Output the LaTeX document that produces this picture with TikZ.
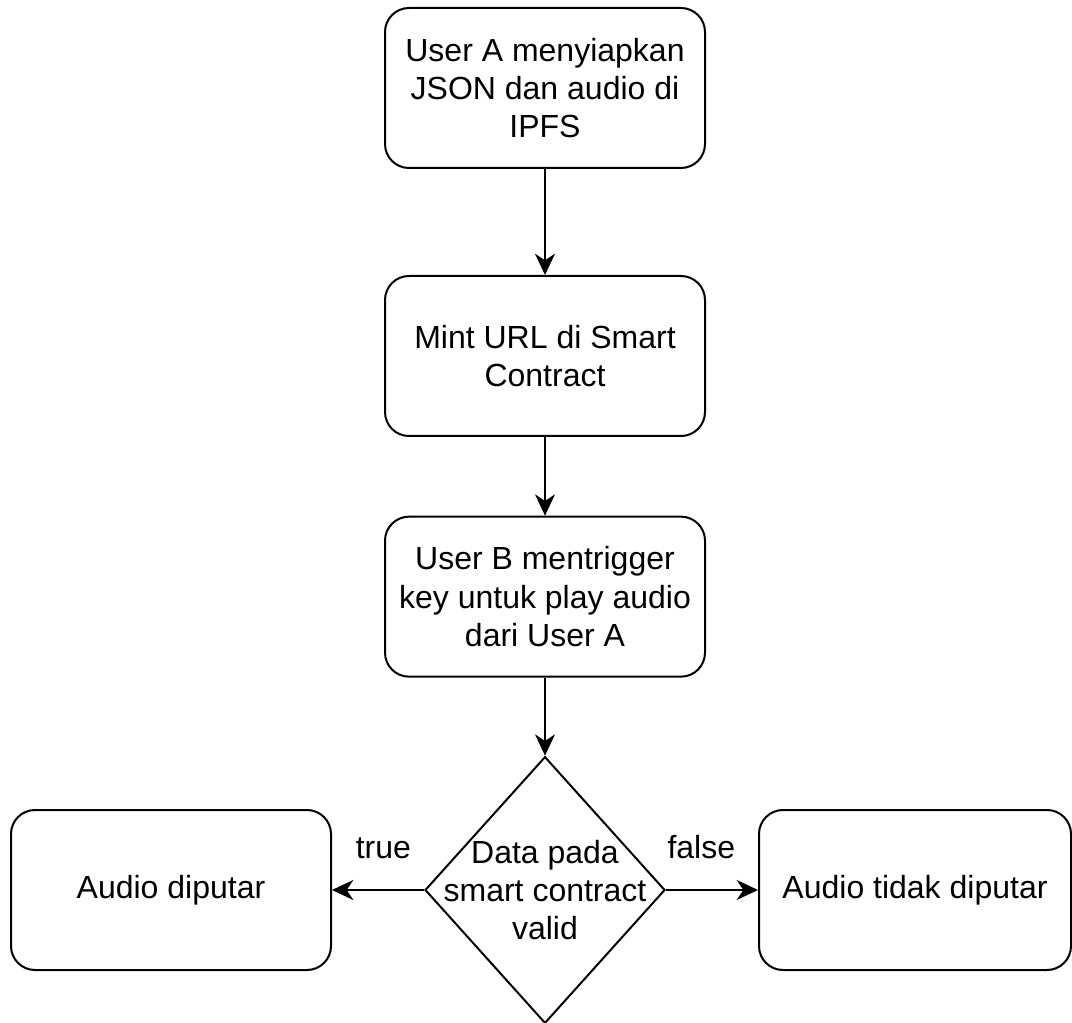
\documentclass[tikz,border=0pt]{standalone}
\usepackage{fontspec}
\setmainfont{Liberation Sans}
\usepackage{tikz}
\usetikzlibrary{shapes.geometric}
\usetikzlibrary{positioning}
\usetikzlibrary{arrows.meta}

\begin{document}
\begin{tikzpicture}[x=0.375pt, y=-0.375pt, node distance=30pt,
    font=\fontsize{12}{14.4}\selectfont,
    process/.style={rectangle, rounded corners=9pt, draw, line width=0.75pt, minimum width=120pt, minimum height=60pt, align=center},
    decision/.style={diamond, draw, line width=0.75pt, minimum width=90pt, minimum height=100pt, inner sep=0pt},
    >={Stealth[length=8pt, width=7.5pt, inset=2.5pt]}]
    \useasboundingbox (0,0) rectangle (1072,1023);

    \node[process] (prep) at (545,88) {User A menyiapkan\\JSON dan audio di\\IPFS};
    \node[process] (mint) [below=39.75pt of prep] {Mint URL di Smart\\Contract};
    \node[process] (trig) [below=29.5pt of mint] {User B mentrigger\\key untuk play audio\\dari User A};
    \node[decision] (valid) [below=29.25pt of trig] {};
    \node[align=center] (validtxt) at (valid) {Data pada\\smart contract\\valid};
    \node[process] (play) [left=34.5pt of valid] {Audio diputar};
    \node[process, minimum width=117pt] (noplay) [right=34.5pt of valid] {Audio tidak diputar};

    \draw[->, line width=0.75pt] (prep) -- (mint);
    \draw[->, line width=0.75pt] (mint) -- (trig);
    \draw[->, line width=0.75pt] (trig) -- (valid);
    \draw[->, line width=0.75pt] (valid) -- (play) node[midway, above=8pt, xshift=2pt] (lbltrue) {true};
    \draw[->, line width=0.75pt] (valid) -- (noplay) node[midway, above=8pt, xshift=-4pt] (lblfalse) {false};

\end{tikzpicture}
\end{document}
